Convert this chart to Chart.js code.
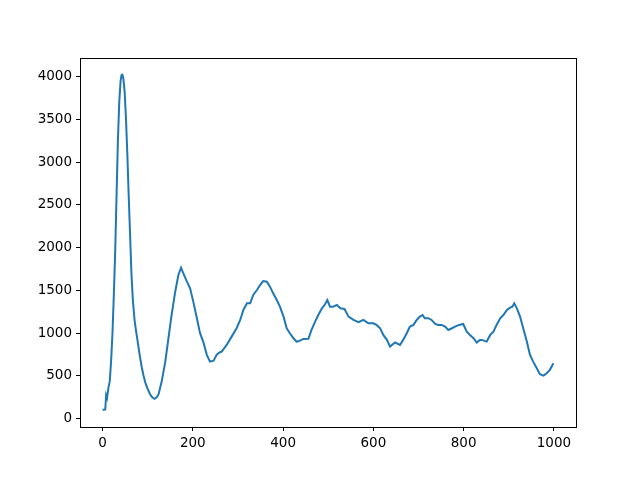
<!DOCTYPE html>
<html>
<head>
<meta charset="utf-8">
<script src="https://cdn.jsdelivr.net/npm/chart.js@4.4.0/dist/chart.umd.min.js"></script>
<style>
html,body{margin:0;padding:0;background:#fff;}
#wrap{width:640px;height:480px;}
</style>
</head>
<body>
<div id="wrap"><canvas id="c" width="640" height="480"></canvas></div>
<script>
const xValues = [0,6,8,10,13,16,19,22,25,28,31,34,37,40,42,44,46,49,52,55,58,61,64,67,71,75,79,83,87,91,95,100,105,110,115,120,124,131,139,146,153,161,168,174,179,187,194,201,209,216,223,231,238,246,253,260,264,275,286,297,305,312,320,327,334,342,349,356,364,371,378,386,393,401,408,415,423,430,434,445,456,463,471,478,486,493,498,504,511,519,527,536,545,556,567,578,589,600,607,615,622,630,637,648,659,666,674,681,689,696,703,709,714,722,729,737,744,751,759,766,774,781,790,799,807,814,822,829,836,840,851,859,866,873,881,888,896,903,908,912,918,925,932,940,947,954,962,969,977,984,991,999];
const yValues = [105,108,276,245,361,440,680,1000,1450,1950,2600,3250,3700,3950,4015,4020,3980,3820,3500,3080,2600,2150,1700,1400,1150,1000,860,720,600,500,420,350,290,250,233,250,285,435,668,941,1213,1485,1680,1765,1700,1602,1525,1369,1175,1000,902,747,668,680,750,778,785,863,960,1058,1155,1272,1350,1350,1447,1505,1563,1610,1602,1544,1466,1388,1310,1194,1058,1000,941,902,905,933,935,1038,1135,1213,1291,1338,1388,1310,1310,1330,1291,1283,1194,1155,1128,1155,1116,1116,1097,1058,980,922,844,891,863,922,1000,1077,1097,1155,1194,1213,1175,1175,1155,1108,1097,1097,1077,1038,1058,1077,1097,1108,1018,980,941,891,922,922,902,980,1018,1097,1175,1213,1272,1299,1310,1350,1291,1194,1058,902,747,668,591,521,505,533,572,650];
const xTicks = [0,200,400,600,800,1000];
const yTicks = [0,500,1000,1500,2000,2500,3000,3500,4000];

const points = xValues.map((x,i)=>({x:x,y:yValues[i]}));

const frame = {
  id:'frame',
  afterDraw(chart){
    const a = chart.chartArea, ctx = chart.ctx;
    ctx.save();
    ctx.strokeStyle = '#000';
    ctx.lineWidth = 1;
    ctx.strokeRect(Math.round(a.left)+0.5, Math.round(a.top)+0.5, Math.round(a.right-a.left), Math.round(a.bottom-a.top));
    ctx.restore();
  }
};

const font = {family:'DejaVu Sans', size:13.5};

new Chart(document.getElementById('c'), {
  type:'line',
  data:{datasets:[{
    data:points,
    borderColor:'#1f77b4',
    borderWidth:2,
    pointRadius:0,
    tension:0,
    fill:false
  }]},
  options:{
    responsive:false,
    animation:false,
    layout:{padding:{left:0,top:58,right:64,bottom:0}},
    plugins:{legend:{display:false},tooltip:{enabled:false}},
    scales:{
      x:{
        type:'linear',
        min:-49.95, max:1048.95,
        afterBuildTicks(s){ s.ticks = xTicks.map(v=>({value:v})); },
        afterFit(s){ s.height = 53; },
        grid:{display:true, drawOnChartArea:false, drawTicks:true, tickLength:4, color:'#000', tickWidth:1},
        border:{display:true, color:'#000', width:1},
        ticks:{color:'#000', font:font, padding:4, maxRotation:0, autoSkip:false, callback:(v)=>String(v)}
      },
      y:{
        type:'linear',
        min:-96, max:4216,
        afterBuildTicks(s){ s.ticks = yTicks.map(v=>({value:v})); },
        afterFit(s){ s.width = 80; },
        grid:{display:true, drawOnChartArea:false, drawTicks:true, tickLength:4, color:'#000', tickWidth:1},
        border:{display:true, color:'#000', width:1},
        ticks:{color:'#000', font:font, padding:4, autoSkip:false, callback:(v)=>String(v)}
      }
    }
  },
  plugins:[frame]
});
</script>
</body>
</html>
